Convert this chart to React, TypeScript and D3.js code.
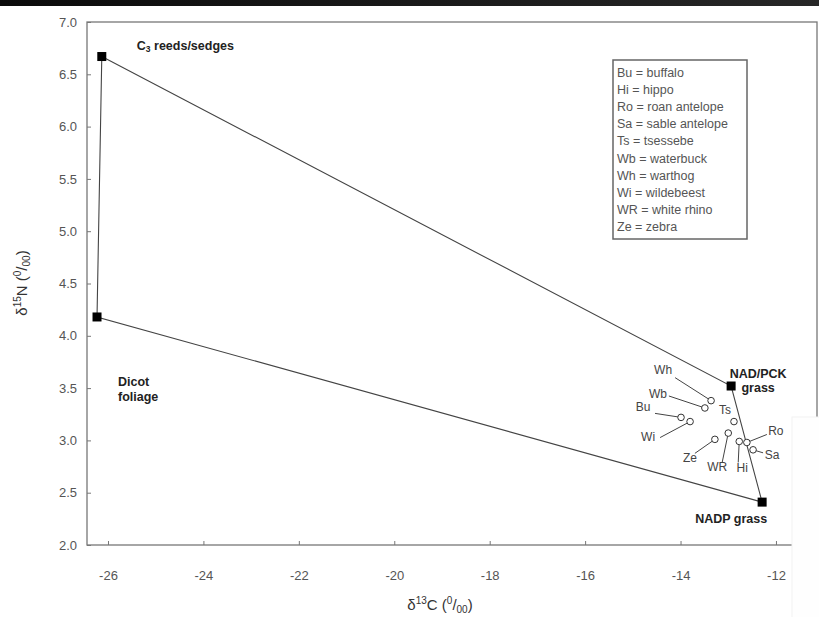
import React, { useEffect, useRef } from "react";
import * as d3 from "d3";

const xTicks = [-26, -24, -22, -20, -18, -16, -14, -12];
const yTicks = [2.0, 2.5, 3.0, 3.5, 4.0, 4.5, 5.0, 5.5, 6.0, 6.5, 7.0];

// plant end-members, in polygon order
const sourceKeys = ["C3", "NADPCK", "NADP", "Dicot"];
const sourceC = [-26.13, -12.94, -12.29, -26.23];
const sourceN = [6.67, 3.52, 2.41, 4.18];

// herbivore means
const animalCodes = ["Wh", "Wb", "Bu", "Wi", "Ts", "Ze", "WR", "Hi", "Ro", "Sa"];
const animalC = [-13.36, -13.49, -13.99, -13.8, -12.88, -13.28, -13.0, -12.77, -12.61, -12.48];
const animalN = [3.38, 3.31, 3.22, 3.18, 3.18, 3.01, 3.07, 2.99, 2.98, 2.91];

const legendLines = [
  "Bu = buffalo",
  "Hi = hippo",
  "Ro = roan antelope",
  "Sa = sable antelope",
  "Ts = tsessebe",
  "Wb = waterbuck",
  "Wh = warthog",
  "Wi = wildebeest",
  "WR = white rhino",
  "Ze = zebra",
];

// label placement (pixel offsets from the point): leader end + text centre
const labelPos: Record<string, { lx: number; ly: number; tx: number; ty: number; line: boolean }> = {
  Wh: { lx: -36, ly: -23, tx: -48, ty: -31, line: true },
  Wb: { lx: -36, ly: -12, tx: -47, ty: -14, line: true },
  Bu: { lx: -26, ly: -4, tx: -38, ty: -10, line: true },
  Wi: { lx: -30, ly: 16, tx: -42, ty: 15, line: true },
  Ts: { lx: 0, ly: 0, tx: -9, ty: -12, line: false },
  Ze: { lx: -20, ly: 14, tx: -25, ty: 19, line: true },
  WR: { lx: -6, ly: 29, tx: -11, ty: 34, line: true },
  Hi: { lx: -1, ly: 21, tx: 3, ty: 27, line: true },
  Ro: { lx: 20, ly: -8, tx: 29, ty: -11, line: true },
  Sa: { lx: 10, ly: 3, tx: 19, ty: 5, line: true },
};

const FONT = "'Liberation Sans', Arial, sans-serif";

export default function App() {
  const ref = useRef<SVGSVGElement | null>(null);

  useEffect(() => {
    const svg = d3.select(ref.current);
    svg.selectAll("*").remove();

    const left = 87, right = 817, top = 22, bottom = 545;
    // scanned frame runs a little past the -12 / -26 ticks
    const x = d3.scaleLinear().domain([-26.44, -11.14]).range([left, right]);
    const y = d3.scaleLinear().domain([2, 7]).range([bottom, top]);

    // dark strip at very top
    const grad = svg.append("defs").append("linearGradient").attr("id", "topbar");
    grad.append("stop").attr("offset", "0%").attr("stop-color", "#0b0b0b");
    grad.append("stop").attr("offset", "100%").attr("stop-color", "#272727");
    svg.append("rect").attr("x", 0).attr("y", 0).attr("width", 819).attr("height", 6).attr("fill", "url(#topbar)");

    // frame
    svg.append("rect")
      .attr("x", left).attr("y", top)
      .attr("width", right - left).attr("height", bottom - top)
      .attr("fill", "none").attr("stroke", "#777").attr("stroke-width", 1.3);

    // axes, ticks pointing inward
    const yAxis = svg.append("g")
      .attr("transform", `translate(${left},0)`)
      .call(d3.axisLeft(y).tickValues(yTicks).tickFormat(d3.format(".1f")).tickSize(-4).tickPadding(10));
    const xAxis = svg.append("g")
      .attr("transform", `translate(0,${bottom})`)
      .call(d3.axisBottom(x).tickValues(xTicks).tickFormat((d) => String(d).replace("−", "-")).tickSize(-4).tickPadding(26));
    [yAxis, xAxis].forEach((g) => {
      g.select(".domain").remove();
      g.selectAll(".tick line").attr("stroke", "#777");
      g.selectAll(".tick text")
        .attr("fill", "#555")
        .style("font-family", FONT)
        .style("font-size", "13px");
    });

    // polygon joining the plant end-members
    const corners: [number, number][] = sourceC.map((c, i) => [x(c), y(sourceN[i])]);
    svg.append("path")
      .attr("d", d3.line()([...corners, corners[0]]))
      .attr("fill", "none")
      .attr("stroke", "#444")
      .attr("stroke-width", 1.1);

    svg.selectAll(".src")
      .data(sourceKeys)
      .join("rect")
      .attr("class", "src")
      .attr("x", (d, i) => x(sourceC[i]) - 4.5)
      .attr("y", (d, i) => y(sourceN[i]) - 4.5)
      .attr("width", 9)
      .attr("height", 9)
      .attr("fill", "#000");

    const boldText = (px: number, py: number, anchor: string) =>
      svg.append("text")
        .attr("x", px).attr("y", py)
        .attr("text-anchor", anchor)
        .attr("fill", "#222")
        .style("font-family", FONT)
        .style("font-size", "12.5px")
        .style("font-weight", "bold");

    const p = (k: string) => {
      const i = sourceKeys.indexOf(k);
      return [x(sourceC[i]), y(sourceN[i])];
    };
    const [c3x, c3y] = p("C3");
    const c3 = boldText(c3x + 35, c3y - 7, "start");
    c3.append("tspan").text("C");
    c3.append("tspan").attr("dy", 2).style("font-size", "8.5px").text("3");
    c3.append("tspan").attr("dy", -2).text(" reeds/sedges");
    const [dx, dy] = p("Dicot");
    boldText(dx + 21, dy + 69, "start").text("Dicot");
    boldText(dx + 21, dy + 84, "start").text("foliage");
    const [nx, ny] = p("NADPCK");
    boldText(nx + 27, ny - 8, "middle").text("NAD/PCK");
    boldText(nx + 27, ny + 6, "middle").text("grass");
    const [gx, gy] = p("NADP");
    boldText(gx - 67, gy + 21, "start").text("NADP grass");

    // animals: leader lines, circles, codes
    animalCodes.forEach((code, i) => {
      const cx = x(animalC[i]);
      const cy = y(animalN[i]);
      const lp = labelPos[code];
      if (lp.line) {
        svg.append("line")
          .attr("x1", cx + lp.lx).attr("y1", cy + lp.ly)
          .attr("x2", cx).attr("y2", cy)
          .attr("stroke", "#444").attr("stroke-width", 1);
      }
      svg.append("text")
        .attr("x", cx + lp.tx).attr("y", cy + lp.ty)
        .attr("text-anchor", "middle")
        .attr("dominant-baseline", "central")
        .attr("fill", "#444")
        .style("font-family", FONT)
        .style("font-size", "12px")
        .text(code);
    });
    svg.selectAll(".animal")
      .data(animalCodes)
      .join("circle")
      .attr("class", "animal")
      .attr("cx", (d, i) => x(animalC[i]))
      .attr("cy", (d, i) => y(animalN[i]))
      .attr("r", 3.3)
      .attr("fill", "#fff")
      .attr("stroke", "#333")
      .attr("stroke-width", 1);

    // legend box
    const lg = svg.append("g").attr("transform", "translate(613,60)");
    lg.append("rect")
      .attr("width", 134).attr("height", 179)
      .attr("fill", "#fff").attr("stroke", "#666").attr("stroke-width", 1.5);
    lg.selectAll("text")
      .data(legendLines)
      .join("text")
      .attr("x", 4)
      .attr("y", (d, i) => 16.5 + i * 17.2)
      .attr("fill", "#555")
      .style("font-family", FONT)
      .style("font-size", "12.5px")
      .text((d) => d);

    // pasted-over patch at lower right
    svg.append("rect")
      .attr("x", 792).attr("y", 417).attr("width", 30).attr("height", 210)
      .attr("fill", "#fefefe").attr("stroke", "#f2f2f2");

    // axis titles
    const xt = svg.append("text")
      .attr("x", 440).attr("y", 610)
      .attr("text-anchor", "middle")
      .attr("fill", "#333")
      .style("font-family", FONT)
      .style("font-size", "15px");
    xt.append("tspan").text("δ");
    xt.append("tspan").attr("dy", -6).style("font-size", "10px").text("13");
    xt.append("tspan").attr("dy", 6).text("C (");
    xt.append("tspan").attr("dy", -6).style("font-size", "10px").text("0");
    xt.append("tspan").attr("dy", 6).text("/");
    xt.append("tspan").attr("dy", 3).style("font-size", "10px").text("00");
    xt.append("tspan").attr("dy", -3).text(")");

    const yt = svg.append("text")
      .attr("transform", "translate(27,283) rotate(-90)")
      .attr("text-anchor", "middle")
      .attr("fill", "#333")
      .style("font-family", FONT)
      .style("font-size", "15px");
    yt.append("tspan").text("δ");
    yt.append("tspan").attr("dy", -6).style("font-size", "10px").text("15");
    yt.append("tspan").attr("dy", 6).text("N (");
    yt.append("tspan").attr("dy", -6).style("font-size", "10px").text("0");
    yt.append("tspan").attr("dy", 6).text("/");
    yt.append("tspan").attr("dy", 3).style("font-size", "10px").text("00");
    yt.append("tspan").attr("dy", -3).text(")");
  }, []);

  return (
    <svg
      ref={ref}
      width={819}
      height={617}
      style={{ position: "absolute", left: 0, top: 0, background: "#fff" }}
    />
  );
}
